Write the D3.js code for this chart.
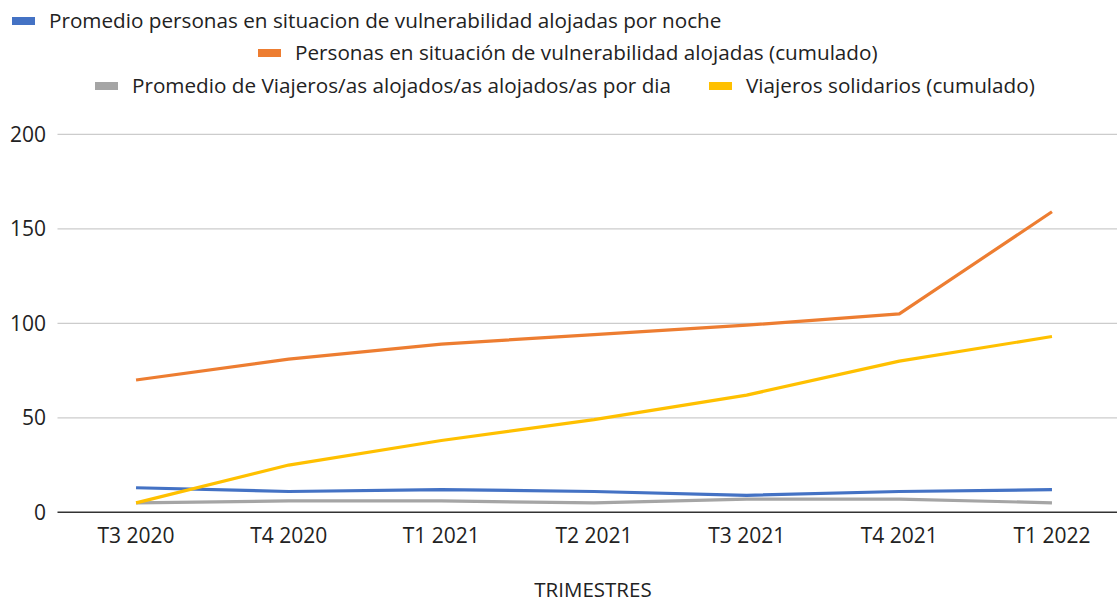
<!DOCTYPE html>
<html><head><meta charset="utf-8">
<script src="https://cdn.jsdelivr.net/npm/d3@7"></script>
<style>
html,body{margin:0;padding:0;background:#fff;}
svg{display:block;font-family:"Open Sans",sans-serif;}
</style></head>
<body>
<svg id="chart" width="1117" height="604"></svg>
<script>
const categories = ["T3 2020","T4 2020","T1 2021","T2 2021","T3 2021","T4 2021","T1 2022"];
const seriesNames = [
  "Promedio personas en situacion de vulnerabilidad alojadas por noche",
  "Personas en situación de vulnerabilidad alojadas (cumulado)",
  "Promedio de Viajeros/as alojados/as alojados/as por dia",
  "Viajeros solidarios (cumulado)"
];
const promedioPersonas = [13, 11, 12, 11, 9, 11, 12];
const personasCumulado = [70, 81, 89, 94, 99, 105, 159];
const promedioViajeros = [5, 6, 6, 5, 7, 7, 5];
const viajerosCumulado = [5, 25, 38, 49, 62, 80, 93];
const yTicks = [0, 50, 100, 150, 200];
const axisTitle = "TRIMESTRES";

const colors = ["#4472C4", "#ED7D31", "#A5A5A5", "#FFC000"];
const seriesValues = [promedioPersonas, personasCumulado, promedioViajeros, viajerosCumulado];
// legend layout: [baseline y, swatch x]
const legendLayout = [[28, 12], [60, 258], [93, 95], [93, 709]];

const svg = d3.select("#chart");
const plotLeft = 57.5, plotRight = 1117;
const x = d3.scalePoint().domain(categories).range([59.7, 1128.3]).padding(0.5);
const y = d3.scaleLinear().domain([0, 200]).range([512.3, 134.3]);

// gridlines
svg.append("g").selectAll("line").data(yTicks.filter(d => d !== 0)).join("line")
  .attr("x1", plotLeft).attr("x2", plotRight)
  .attr("y1", d => y(d)).attr("y2", d => y(d))
  .attr("stroke", "#cccccc").attr("stroke-width", 1.3);

// y labels
svg.append("g").selectAll("text").data(yTicks).join("text")
  .attr("x", 46).attr("y", d => y(d)).attr("dy", "0.36em")
  .attr("text-anchor", "end").attr("font-size", 21).attr("fill", "#222")
  .text(d => d);

// x labels
svg.append("g").selectAll("text").data(categories).join("text")
  .attr("x", d => x(d)).attr("y", 543)
  .attr("text-anchor", "middle").attr("font-size", 21).attr("fill", "#222")
  .text(d => d);

// axis title
svg.append("text").attr("x", 593).attr("y", 597)
  .attr("text-anchor", "middle").attr("font-size", 20.5).attr("fill", "#222")
  .text(axisTitle);

// lines
const line = d3.line().x((d, i) => x(categories[i])).y(d => y(d));
const drawOrder = [2, 0, 3, 1];
svg.append("g").selectAll("path").data(drawOrder).join("path")
  .attr("d", k => line(seriesValues[k]))
  .attr("fill", "none").attr("stroke", k => colors[k])
  .attr("stroke-width", 3.2).attr("stroke-linejoin", "round").attr("stroke-linecap", "butt");

// baseline axis
svg.append("line").attr("x1", plotLeft).attr("x2", plotRight)
  .attr("y1", y(0)).attr("y2", y(0)).attr("stroke", "#333").attr("stroke-width", 1.5);

// legend
const lg = svg.append("g").selectAll("g").data(seriesNames).join("g")
  .attr("transform", (d, i) => `translate(${legendLayout[i][1]},${legendLayout[i][0]})`);
lg.append("rect").attr("x", 0).attr("y", -11).attr("width", 23).attr("height", 8)
  .attr("fill", (d, i) => colors[i]);
lg.append("text").attr("x", 37).attr("y", 0).attr("font-size", 20.7).attr("fill", "#222")
  .text(d => d);
</script>
</body></html>
